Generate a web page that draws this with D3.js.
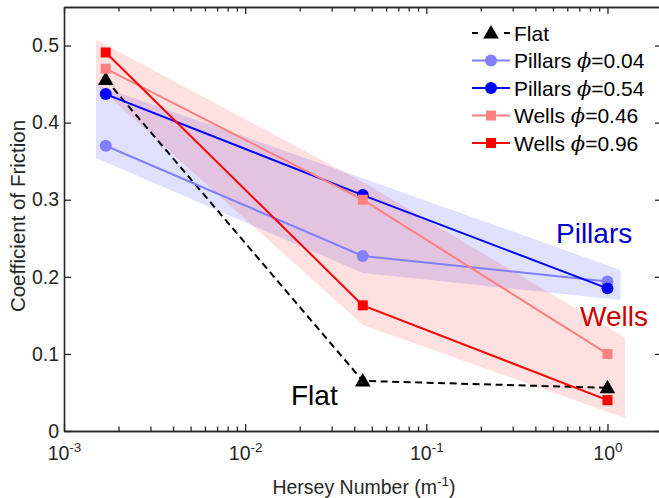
<!DOCTYPE html>
<html>
<head>
<meta charset="utf-8">
<script src="https://cdn.jsdelivr.net/npm/d3@7"></script>
<style>
  body { margin: 0; background: #fff; }
  svg { display: block; font-family: "Liberation Sans", Arial, sans-serif; }
</style>
</head>
<body>
<div id="chart"></div>
<script>
const w = 659;
const h = 498;

// data
const hersey = [1.7e-3, 0.0446, 1.0];
const flat = [0.456, 0.065, 0.056];
const pillars004 = [0.370, 0.227, 0.194];
const pillars054 = [0.437, 0.306, 0.185];
const wells046 = [0.470, 0.300, 0.100];
const wells096 = [0.491, 0.163, 0.040];

// shaded envelopes
const pillarsBandX = [1.5e-3, 0.0446, 1.18];
const pillarsBandLow = [0.354, 0.205, 0.170];
const pillarsBandHigh = [0.449, 0.328, 0.209];
const wellsBandX = [1.5e-3, 0.0446, 1.25];
const wellsBandLow = [0.449, 0.1375, 0.017];
const wellsBandHigh = [0.508, 0.323, 0.121];

const yTicks = [0, 0.1, 0.2, 0.3, 0.4, 0.5];
const xMajor = [1e-3, 1e-2, 1e-1, 1];
const xExp = ["-3", "-2", "-1", "0"];

const series = [
    {name: "Flat", phi: null, values: flat, color: "#000000", marker: "triangle", dash: "7,4.5"},
    {name: "Pillars", phi: "0.04", values: pillars004, color: "#8080ff", marker: "circle"},
    {name: "Pillars", phi: "0.54", values: pillars054, color: "#0000ff", marker: "circle"},
    {name: "Wells", phi: "0.46", values: wells046, color: "#ff8080", marker: "square"},
    {name: "Wells", phi: "0.96", values: wells096, color: "#ff0000", marker: "square"}
];

const mLeft = 64, mRight = 662, mTop = 7, mBottom = 431;

const x = d3.scaleLog().domain([1e-3, 2]).range([mLeft, mRight]);
const y = d3.scaleLinear().domain([0, 0.55]).range([mBottom, mTop]);

const svg = d3.select("#chart")
    .append("svg")
    .attr("width", w)
    .attr("height", h);

// bands
function band(xs, lo, hi) {
    var pts = xs.map(function(d, i) { return {x: d, lo: lo[i], hi: hi[i]}; });
    return d3.area()
        .x(function(d) { return x(d.x); })
        .y0(function(d) { return y(d.lo); })
        .y1(function(d) { return y(d.hi); })(pts);
}

svg.append("path")
    .attr("d", band(pillarsBandX, pillarsBandLow, pillarsBandHigh))
    .attr("fill", "rgba(0,0,255,0.12)");

svg.append("path")
    .attr("d", band(wellsBandX, wellsBandLow, wellsBandHigh))
    .attr("fill", "rgba(255,0,0,0.12)");

// axes
const axisColor = "#262626";
const minor = [];
[1e-3, 1e-2, 1e-1, 1].forEach(function(p) {
    for (var k = 2; k <= 9; k++) {
        if (p * k <= 2) minor.push(p * k);
    }
});

function styleAxis(g) {
    g.selectAll("path").attr("stroke", axisColor).attr("stroke-width", 1.6);
    g.selectAll("line").attr("stroke", axisColor).attr("stroke-width", 1.3);
    g.selectAll("text").attr("fill", axisColor);
}

svg.append("g")
    .attr("transform", "translate(0," + mBottom + ")")
    .call(d3.axisBottom(x).tickValues(minor).tickSizeInner(-4.5).tickSizeOuter(0).tickFormat(""))
    .call(styleAxis);
svg.append("g")
    .attr("transform", "translate(0," + mTop + ")")
    .call(d3.axisTop(x).tickValues(minor).tickSizeInner(-4.5).tickSizeOuter(0).tickFormat(""))
    .call(styleAxis);

var xBottom = svg.append("g")
    .attr("transform", "translate(0," + mBottom + ")")
    .call(d3.axisBottom(x).tickValues(xMajor).tickSizeInner(-7).tickSizeOuter(0))
    .call(styleAxis);
xBottom.selectAll("text")
    .attr("font-size", 19.5)
    .attr("y", 29)
    .attr("dy", 0)
    .text("")
    .each(function(d, i) {
        var t = d3.select(this);
        t.append("tspan").text("10");
        t.append("tspan").attr("font-size", 13.5).attr("dy", -8).text(xExp[i]);
    });

svg.append("g")
    .attr("transform", "translate(0," + mTop + ")")
    .call(d3.axisTop(x).tickValues(xMajor).tickSizeInner(-7).tickSizeOuter(0).tickFormat(""))
    .call(styleAxis);

svg.append("g")
    .attr("transform", "translate(" + mLeft + ",0)")
    .call(d3.axisLeft(y).tickValues(yTicks).tickSizeInner(-7).tickSizeOuter(0).tickPadding(5)
        .tickFormat(function(d) { return d === 0 ? "0" : d3.format(".1f")(d); }))
    .call(styleAxis)
    .selectAll("text").attr("font-size", 19.5);

svg.append("g")
    .attr("transform", "translate(" + mRight + ",0)")
    .call(d3.axisRight(y).tickValues(yTicks).tickSizeInner(-7).tickSizeOuter(0).tickFormat(""))
    .call(styleAxis);

// axis titles
svg.append("text")
    .attr("x", 364)
    .attr("y", 494)
    .attr("text-anchor", "middle")
    .attr("font-size", 19.5)
    .attr("fill", axisColor)
    .call(function(t) {
        t.append("tspan").text("Hersey Number (m");
        t.append("tspan").attr("font-size", 13.5).attr("dy", -8).text("-1");
        t.append("tspan").attr("dy", 8).text(")");
    });

svg.append("text")
    .attr("transform", "translate(25,216) rotate(-90)")
    .attr("text-anchor", "middle")
    .attr("font-size", 20.5)
    .attr("fill", axisColor)
    .text("Coefficient of Friction");

// lines and markers
const line = d3.line()
    .x(function(d, i) { return x(hersey[i]); })
    .y(function(d) { return y(d); });

function drawMarker(g, type, color, cx, cy) {
    if (type === "circle") {
        g.append("circle").attr("cx", cx).attr("cy", cy).attr("r", 6).attr("fill", color);
    } else if (type === "square") {
        g.append("rect").attr("x", cx - 5).attr("y", cy - 5).attr("width", 10).attr("height", 10).attr("fill", color);
    } else {
        g.append("path")
            .attr("d", d3.symbol(d3.symbolTriangle, 105)())
            .attr("transform", "translate(" + cx + "," + (cy + 1) + ")")
            .attr("fill", color);
    }
}

series.forEach(function(s) {
    var g = svg.append("g");
    g.append("path")
        .attr("d", line(s.values))
        .attr("fill", "none")
        .attr("stroke", s.color)
        .attr("stroke-width", 2)
        .attr("stroke-dasharray", s.dash || null);
    s.values.forEach(function(v, i) {
        drawMarker(g, s.marker, s.color, x(hersey[i]), y(v));
    });
});

// legend
const legend = svg.append("g");
series.forEach(function(s, i) {
    var ly = 33 + i * 27.5;
    legend.append("line")
        .attr("x1", 472).attr("x2", 510)
        .attr("y1", ly).attr("y2", ly)
        .attr("stroke", s.color)
        .attr("stroke-width", 2)
        .attr("stroke-dasharray", s.dash ? "6,26" : null);
    drawMarker(legend, s.marker, s.color, 491, ly);
    var t = legend.append("text")
        .attr("x", 514)
        .attr("y", ly + 7.5)
        .attr("font-size", 21)
        .attr("fill", "#000");
    if (s.phi === null) {
        t.text(s.name);
    } else {
        t.append("tspan").text(s.name + " ");
        t.append("tspan").attr("font-style", "italic").attr("font-family", "'DejaVu Serif', serif").text("ϕ");
        t.append("tspan").text("=" + s.phi);
    }
});

// group labels
svg.append("text").attr("x", 556).attr("y", 243).attr("font-size", 28).attr("fill", "#0000cc").text("Pillars");
svg.append("text").attr("x", 580).attr("y", 326).attr("font-size", 28).attr("fill", "#cc0000").text("Wells");
svg.append("text").attr("x", 291).attr("y", 405).attr("font-size", 28).attr("fill", "#000").text("Flat");
</script>
</body>
</html>
